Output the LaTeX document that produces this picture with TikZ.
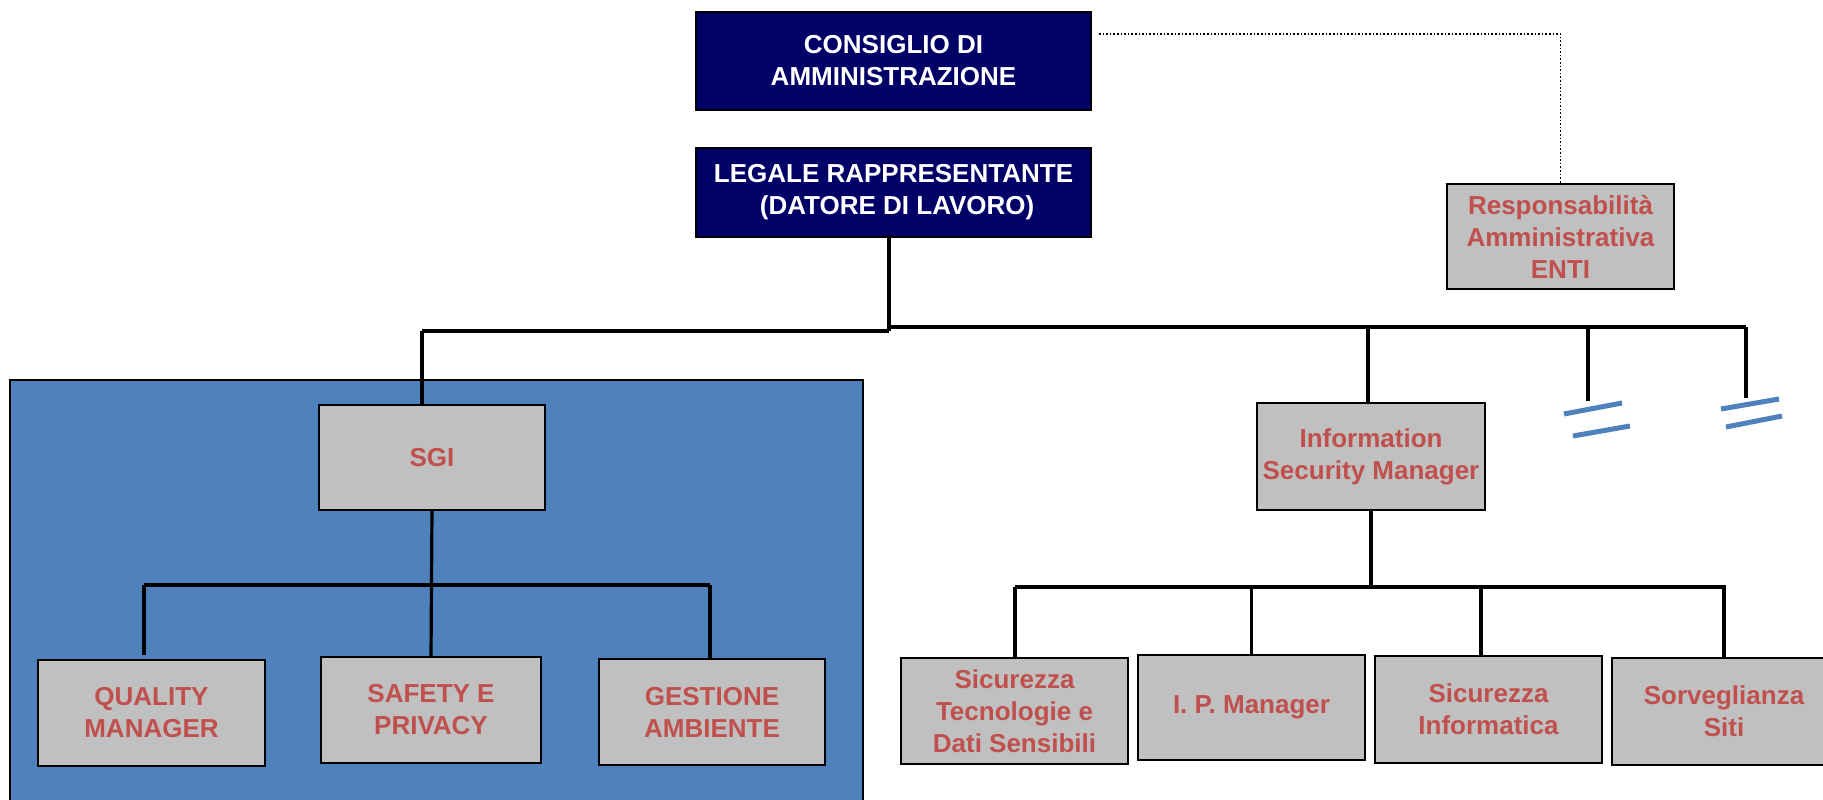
\documentclass[tikz,border=0pt]{standalone}
\usepackage{fontspec}
\setmainfont{Liberation Sans}
\definecolor{navy}{HTML}{000066}
\definecolor{boxgray}{HTML}{C0C0C0}
\definecolor{txtred}{HTML}{C0504D}
\definecolor{areablue}{HTML}{4F81BD}
\tikzset{
  base/.style={draw=black, line width=2pt, align=center, inner sep=0pt,
    font=\fontsize{26}{32}\selectfont\bfseries},
  navybox/.style={base, fill=navy, text=white},
  graybox/.style={base, fill=boxgray, text=txtred},
  conn/.style={line width=3.2pt, black},
  bus/.style={line width=3.6pt, black},
  dotline/.style={line width=1.6pt, black, dotted},
  breakbar/.style={line width=5pt, areablue}
}
\begin{document}
\begin{tikzpicture}[x=1pt, y=-1pt]
\useasboundingbox (0,0) rectangle (1823,800);
\fill[white] (0,0) rectangle (1823,800);

% shaded area behind the SGI branch
\filldraw[fill=areablue, draw=black, line width=1.5pt] (10,380) rectangle (863,806);

% top of the hierarchy
\node[navybox, minimum width=395pt, minimum height=98pt] (cons) at (893.5,61) {CONSIGLIO DI\\AMMINISTRAZIONE};
\node[navybox, minimum width=395pt, minimum height=89pt] (legale) at (893.5,192.5) {LEGALE RAPPRESENTANTE\\\ (DATORE DI LAVORO)};
\node[graybox, minimum width=227pt, minimum height=105pt] (resp) at (1560.5,236.5) {Responsabilità\\Amministrativa\\ENTI};

% SGI branch
\node[graybox, minimum width=226pt, minimum height=105pt] (sgi) at (432,457.5) {SGI};
\node[graybox, minimum width=227pt, minimum height=106pt] (quality) at (151.5,713) {QUALITY\\MANAGER};
\node[graybox, minimum width=220pt, minimum height=106pt] (safety) at (431,710) {SAFETY E\\PRIVACY};
\node[graybox, minimum width=226pt, minimum height=106pt] (gestione) at (712,712) {GESTIONE\\AMBIENTE};

% security branch
\node[graybox, minimum width=228pt, minimum height=107pt] (ism) at (1371,456.5) {Information\\Security Manager};
\node[graybox, minimum width=227pt, minimum height=106pt] (sic1) at (1014.5,711) {Sicurezza\\Tecnologie e\\Dati Sensibili};
\node[graybox, minimum width=227pt, minimum height=105pt] (ipm) at (1251.5,707.5) {I. P. Manager};
\node[graybox, minimum width=227pt, minimum height=107pt] (sic2) at (1488.5,709.5) {Sicurezza\\Informatica};
\node[graybox, minimum width=224pt, minimum height=107pt] (sorv) at (1724,711.5) {Sorveglianza\\Siti};

% dotted link to the administrative responsibility box
\coordinate (dotstart) at (1099,34);
\draw[dotline] (dotstart) -| (resp.north);

% main bus
\coordinate (busL) at (422,331);
\coordinate (busJ) at (889,331);
\coordinate (busJr) at (889,327);
\coordinate (busR) at (1746,327);
\draw[conn] ([yshift=3pt]legale.south -| busJ) -- (busJ);
\draw[bus] (busL) -- (busJ);
\draw[bus] (busJr) -- (busR);
\draw[conn] (busL) -- (busL |- sgi.north);
\coordinate (ismtop) at (1368,327);
\draw[conn] (ismtop) -- (ismtop |- ism.north);

% interrupted branches
\coordinate (stubA) at (1588,327);
\coordinate (stubAend) at (1588,401);
\coordinate (stubB) at (1746,327);
\coordinate (stubBend) at (1746,398);
\draw[conn] (stubA) -- (stubAend);
\draw[conn] (stubB) -- (stubBend);
\draw[breakbar] (1564,414) -- (1622,403);
\draw[breakbar] (1573,436) -- (1630,426);
\draw[breakbar] (1721,409) -- (1779,399);
\draw[breakbar] (1726,427) -- (1782,416);

% SGI sub-bus
\coordinate (sgibusL) at (144,585);
\coordinate (sgibusR) at (710,585);
\draw[bus] (sgibusL) -- (sgibusR);
\draw[conn] (sgi.south) -- (safety.north);
\draw[conn] (sgibusL) -- (144,655);
\draw[conn] (sgibusR) -- (sgibusR |- gestione.north);

% security sub-bus
\coordinate (secbusL) at (1015,587);
\coordinate (secbusR) at (1726,587);
\coordinate (secbusC) at (1481,587);
\draw[bus] (secbusL) -- (secbusR);
\draw[conn] (ism.south) -- (ism.south |- secbusL);
\draw[conn] (secbusL) -- (secbusL |- sic1.north);
\draw[conn] (ipm.north |- secbusL) -- (ipm.north);
\draw[conn] (secbusC) -- (secbusC |- sic2.north);
\draw[conn] (sorv.north |- secbusL) -- (sorv.north);
\end{tikzpicture}
\end{document}
